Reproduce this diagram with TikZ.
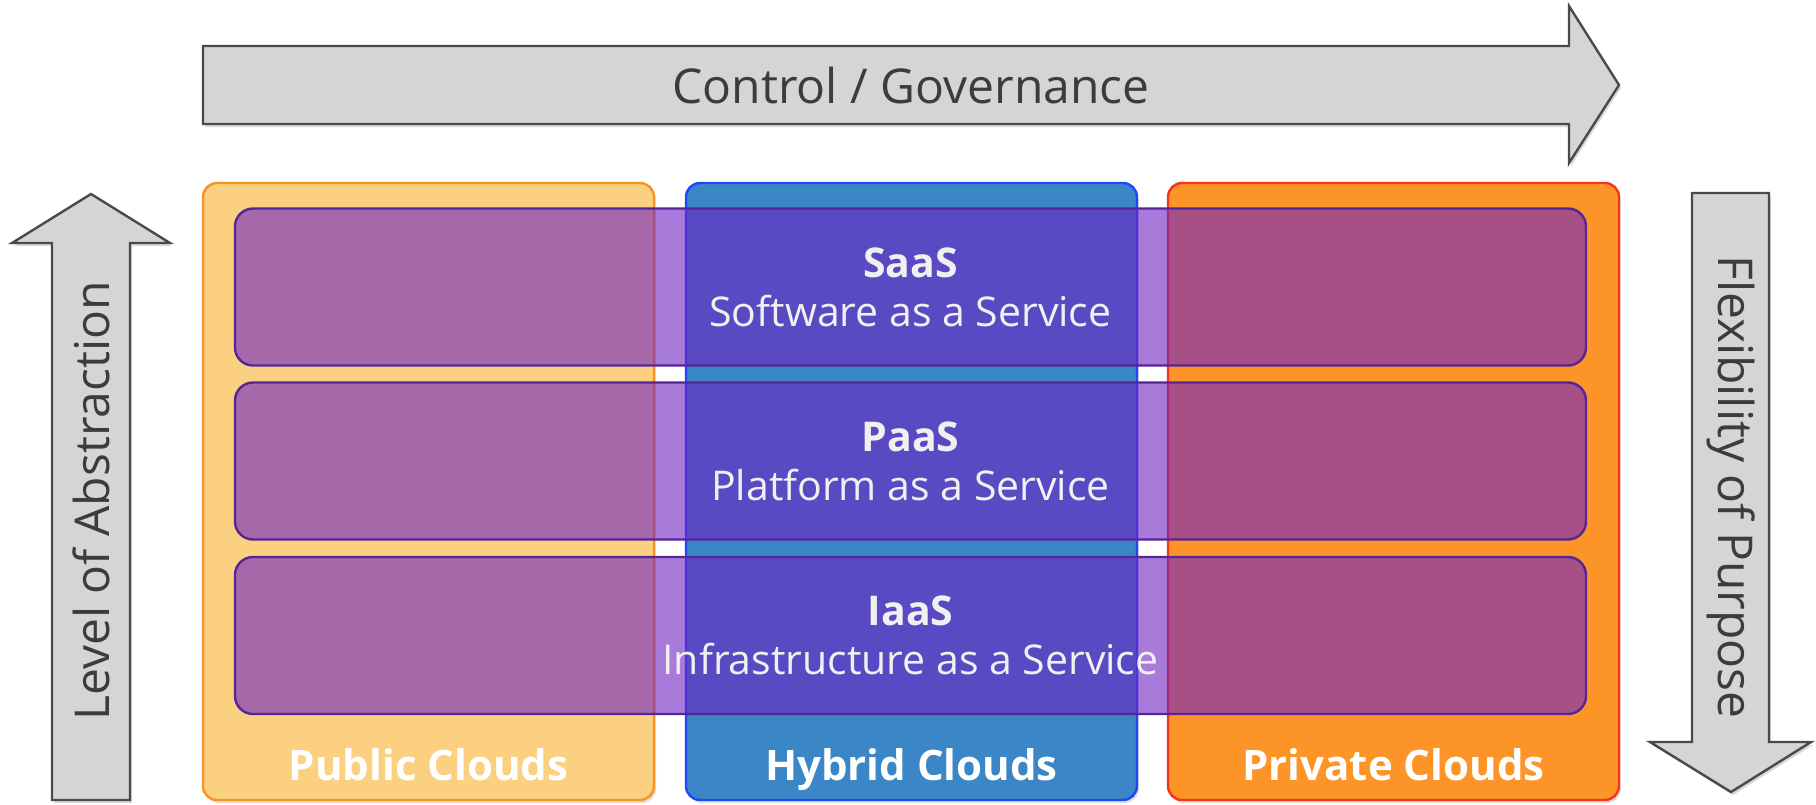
\documentclass[tikz,border=0pt]{standalone}
\usepackage{fontspec}
\setmainfont{Open Sans}
\usetikzlibrary{positioning}
\usetikzlibrary{shadows}
\definecolor{pubfill}{HTML}{FCD081}
\definecolor{publine}{HTML}{F7931E}
\definecolor{hybfill}{HTML}{3A86C7}
\definecolor{hybline}{HTML}{1F47F5}
\definecolor{privfill}{HTML}{FD9428}
\definecolor{privline}{HTML}{F5331F}
\definecolor{layerfill}{RGB}{110,35,195}
\definecolor{layerline}{HTML}{55259A}
\definecolor{arrowfill}{HTML}{D5D5D5}
\definecolor{arrowline}{HTML}{4A4A4A}
\definecolor{arrowtext}{HTML}{3C3C3C}
\tikzset{
	every node/.style = {font=\fontsize{20.5}{24.6}\selectfont},
	bigarrow/.style = {fill=arrowfill, draw=arrowline, line width=1.2pt, line join=miter,
		drop shadow={opacity=0.3, shadow xshift=1pt, shadow yshift=-1.5pt}},
	arrowlabel/.style = {text=arrowtext, font=\fontsize{24}{28}\selectfont},
	cloudbox/.style = {rectangle, rounded corners=7pt, line width=1.2pt,
		minimum width=225.5pt, minimum height=308.5pt,
		drop shadow={opacity=0.25, shadow xshift=1pt, shadow yshift=-1.5pt}},
	cloudlabel/.style = {anchor=base, text=white, font=\fontsize{21}{25}\selectfont\bfseries},
	layer/.style = {rectangle, rounded corners=9pt, fill=layerfill, fill opacity=0.6, text opacity=1,
		draw=layerline, line width=1.2pt, minimum width=675.5pt, minimum height=78.5pt,
		align=center, text=white!94!black}
}
\begin{document}
\begin{tikzpicture}[x=0.5pt, y=-0.5pt]
	\useasboundingbox (0,0) rectangle (1816,804);
	% axes
	\draw[bigarrow] (203,46) -- (1569,46) -- (1569,6) -- (1619,85) -- (1569,163) -- (1569,124) -- (203,124) -- cycle;
	\node[arrowlabel] (ctrl) at (911,85) {Control / Governance};
	\draw[bigarrow] (52,800) -- (52,243) -- (12,243) -- (91,194) -- (170,243) -- (130,243) -- (130,800) -- cycle;
	\node[arrowlabel, rotate=90] (abstr) at (91,501) {Level of Abstraction};
	\draw[bigarrow] (1692,193) -- (1769,193) -- (1769,742) -- (1811,742) -- (1731,792) -- (1650,742) -- (1692,742) -- cycle;
	\node[arrowlabel, rotate=-90] (flex) at (1731,487) {Flexibility of Purpose};
	% clouds
	\foreach \x/\name/\fc/\lc/\txt in {428.5/pub/pubfill/publine/Public Clouds,
		911.5/hyb/hybfill/hybline/Hybrid Clouds, 1393.5/priv/privfill/privline/Private Clouds}
	{
		\node[cloudbox, fill=\fc, draw=\lc] (\name) at (\x,491.5) {};
		\node[cloudlabel] (\name lbl) at ([yshift=10.5pt]\name.south) {\txt};
	}
	% service layers
	\foreach \y/\name/\abbr/\full in {287/saas/SaaS/Software, 461/paas/PaaS/Platform, 635.5/iaas/IaaS/Infrastructure}
		\node[layer] (\name) at (910.5,\y) {\textbf{\abbr}\\\full{} as a Service};
\end{tikzpicture}
\end{document}
